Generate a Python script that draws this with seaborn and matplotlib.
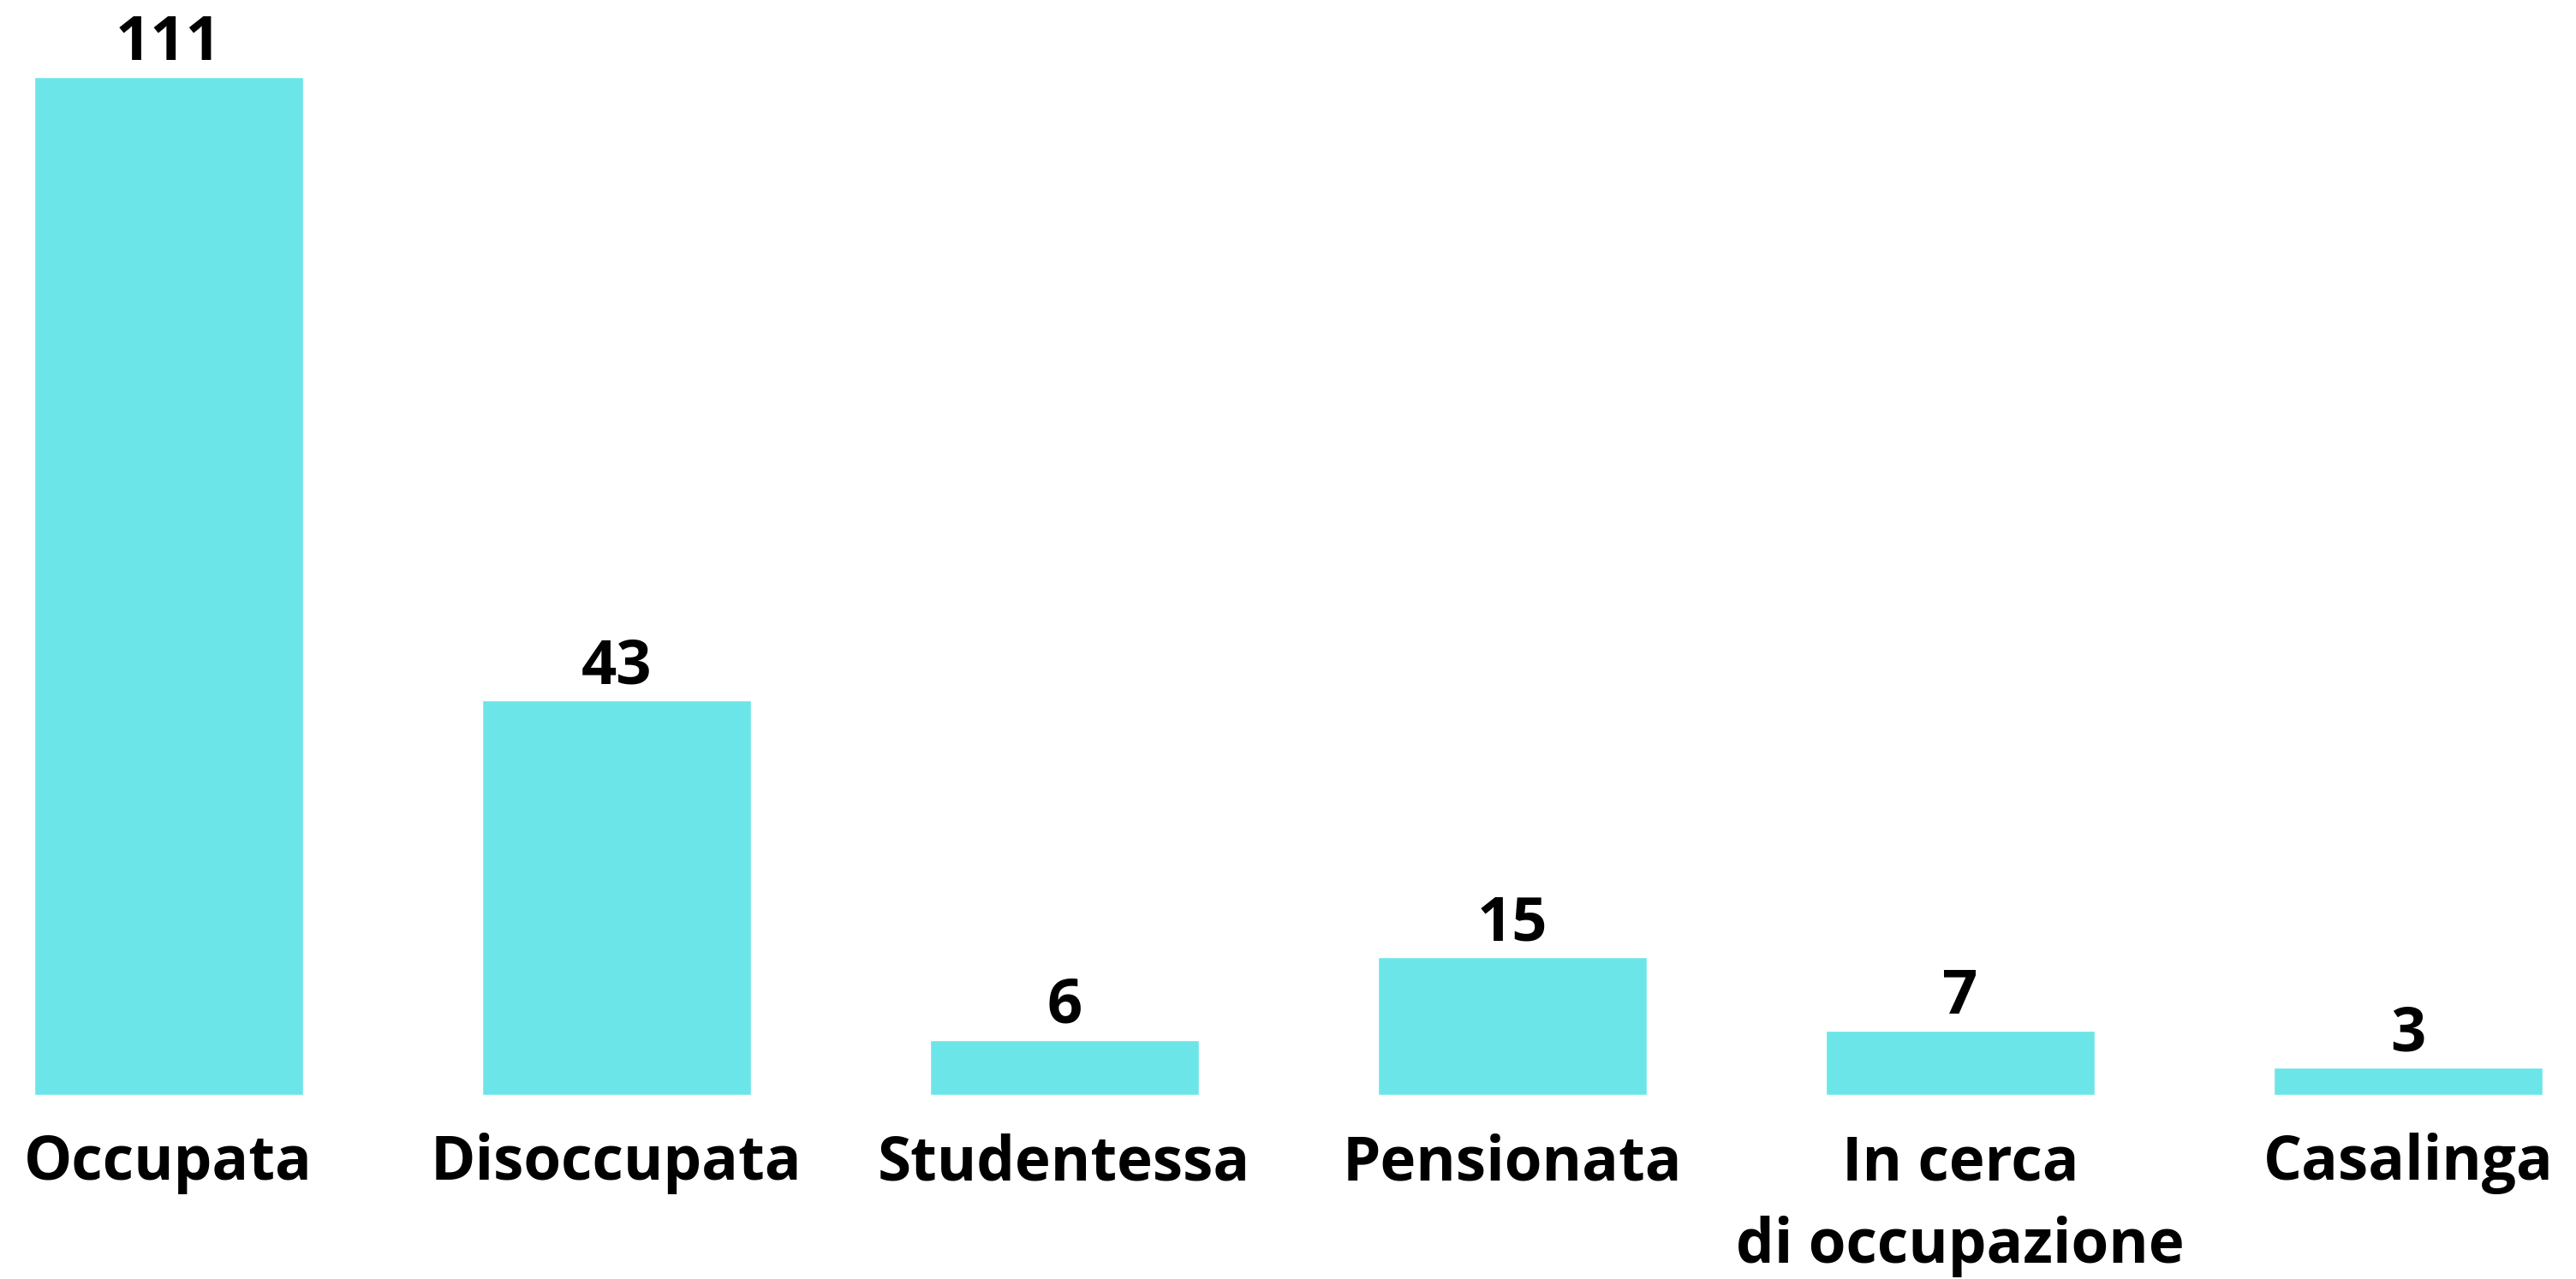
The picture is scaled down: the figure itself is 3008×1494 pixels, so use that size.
import pandas as pd
import seaborn as sns
import matplotlib.pyplot as plt

categories = ["Occupata", "Disoccupata", "Studentessa", "Pensionata",
              "In cerca\ndi occupazione", "Casalinga"]
counts = [111, 43, 6, 15, 7, 3]

df = pd.DataFrame({"condizione": categories, "n": counts})

sns.set_style("white")
plt.rcParams["font.family"] = ["Open Sans", "DejaVu Sans"]

fig = plt.figure(figsize=(30.08, 14.94), dpi=100)
# axes fill the whole width, baseline sits ~215px from the bottom
ax = fig.add_axes([0, 215 / 1494, 1, 1 - 215 / 1494])

sns.barplot(x="condizione", y="n", data=df, color="#6CE5E8",
            saturation=1, width=0.6, ax=ax)

ax.set_xlim(-0.376, 5.375)
ax.set_ylim(0, 119.4)

for bars in ax.containers:
    ax.bar_label(bars, padding=2, fontsize=52, fontweight="bold", color="black")

ax.set_xlabel("")
ax.set_ylabel("")
ax.set_yticks([])
ax.tick_params(axis="x", length=0, pad=32)
for lab in ax.get_xticklabels():
    lab.set_fontsize(51)
    lab.set_fontweight("bold")
    lab.set_color("black")
    lab.set_linespacing(1.45)
sns.despine(left=True, bottom=True)

fig.savefig("out.png", dpi=100, facecolor="white")
